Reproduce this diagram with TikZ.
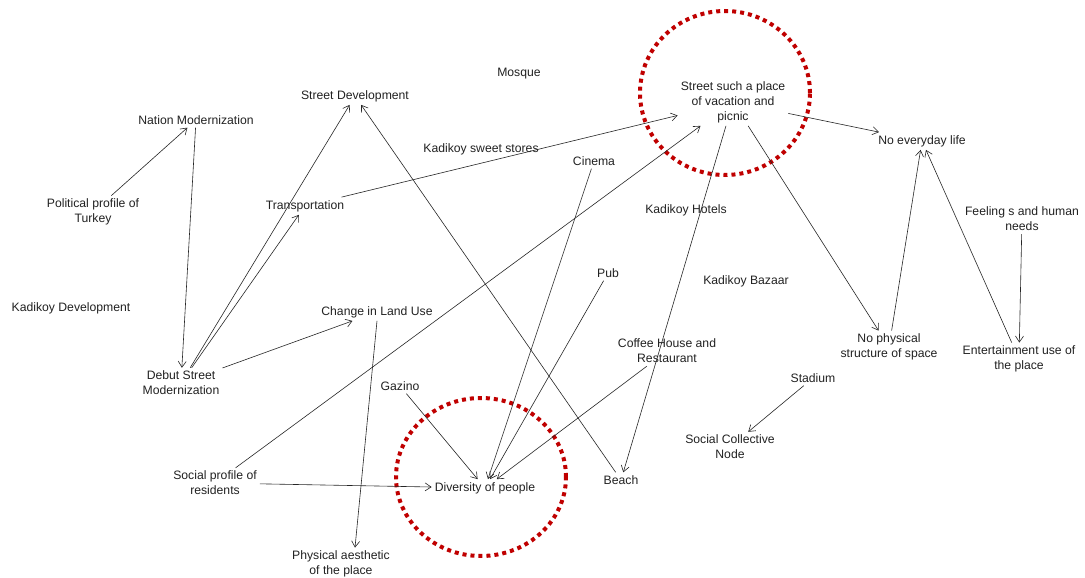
\documentclass[tikz,border=0pt]{standalone}
\usepackage{fontspec}
\setmainfont{Liberation Sans}
\usetikzlibrary{arrows.meta}
\definecolor{hlred}{HTML}{C00000}
\definecolor{txt}{HTML}{222222}
\newcommand{\lblfont}{\fontsize{12.2}{15}\selectfont}
\begin{document}
\begin{tikzpicture}[x=1pt,y=-1pt,
  lbl/.style={font=\lblfont, text=txt, inner sep=3pt, align=center, yshift=-2pt},
  arr/.style={-{Straight Barb[length=6pt,width=8pt]}, line width=0.6pt, draw=black!85},
  hl/.style={draw=hlred, line width=4pt, dash pattern=on 4pt off 4pt}]
\useasboundingbox (0,0) rectangle (1085,578);
\fill[white] (0,0) rectangle (1085,578);

% highlight circles
\draw[hl] (725,93) ellipse [x radius=85pt, y radius=82pt];
\draw[hl] (481,477) ellipse [x radius=85pt, y radius=79pt];

% nodes
\node[lbl] (mosque) at (519,72) {Mosque};
\node[lbl] (streetdev) at (355,94) {Street Development};
\node[lbl] (nation) at (196,118) {Nation Modernization};
\node[lbl] (vacation) at (733,100) {Street such a place\\of vacation and\\picnic};
\node[lbl] (noeveryday) at (922,139) {No everyday life};
\node[lbl] (sweet) at (481,147) {Kadikoy sweet stores};
\node[lbl] (cinema) at (594,159) {Cinema};
\node[lbl] (political) at (93,210) {Political profile of\\Turkey};
\node[lbl] (transport) at (305,204) {Transportation};
\node[lbl] (hotels) at (686,208) {Kadikoy Hotels};
\node[lbl] (feeling) at (1022,217) {Feeling s and human\\needs};
\node[lbl] (pub) at (608,271) {Pub};
\node[lbl] (bazaar) at (746,279) {Kadikoy Bazaar};
\node[lbl] (kdev) at (71,306) {Kadikoy Development};
\node[lbl] (landuse) at (377,310) {Change in Land Use};
\node[lbl] (nophys) at (889,345) {No physical\\structure of space};
\node[lbl] (coffee) at (667,349) {Coffee House and\\Restaurant};
\node[lbl] (entertain) at (1019,357) {Entertainment use of\\the place};
\node[lbl] (debut) at (181,381) {Debut Street\\Modernization};
\node[lbl] (stadium) at (813,376) {Stadium};
\node[lbl] (gazino) at (400,384) {Gazino};
\node[lbl] (collective) at (730,445) {Social Collective\\Node};
\node[lbl] (social) at (215,481) {Social profile of\\residents};
\node[lbl] (beach) at (621,478) {Beach};
\node[lbl] (diversity) at (485,486) {Diversity of people};
\node[lbl] (aesthetic) at (341,562) {Physical aesthetic\\of the place};

% connectors
\draw[arr] (political) -- (nation);
\draw[arr] (nation) -- (debut);
\draw[arr] (debut) -- (streetdev);
\draw[arr] (debut) -- (transport);
\draw[arr] (debut) -- (landuse);
\draw[arr] (transport) -- (vacation);
\draw[arr] (beach) -- (streetdev);
\draw[arr] (social) -- (vacation);
\draw[arr] (social) -- (diversity);
\draw[arr] (landuse.south) -- ([xshift=14pt]aesthetic.north);
\draw[arr] (gazino) -- (diversity);
\draw[arr] (cinema) -- (diversity);
\draw[arr] (pub) -- (diversity);
\draw[arr] (coffee) -- (diversity);
\draw[arr] (vacation) -- (beach);
\draw[arr] (vacation) -- (nophys);
\draw[arr] (vacation) -- (noeveryday);
\draw[arr] (nophys) -- (noeveryday);
\draw[arr] (entertain) -- (noeveryday);
\draw[arr] (feeling) -- (entertain);
\draw[arr] (stadium) -- (collective);
\end{tikzpicture}
\end{document}
